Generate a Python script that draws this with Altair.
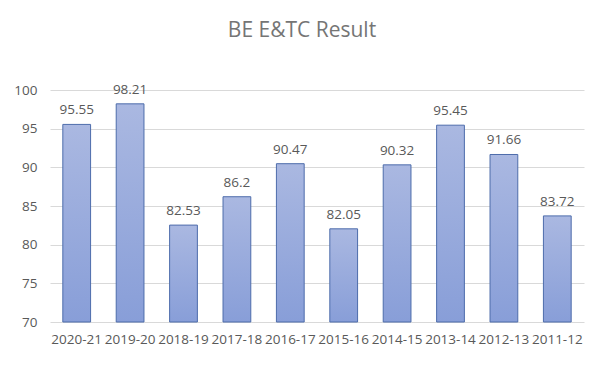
import altair as alt
import pandas as pd

title_text = "BE E&TC Result"
years = ["2020-21", "2019-20", "2018-19", "2017-18", "2016-17",
         "2015-16", "2014-15", "2013-14", "2012-13", "2011-12"]
results = [95.55, 98.21, 82.53, 86.2, 90.47, 82.05, 90.32, 95.45, 91.66, 83.72]
y_ticks = [70, 75, 80, 85, 90, 95, 100]

df = pd.DataFrame({"year": years, "result": results})
df["label"] = [f"{v:g}" for v in results]

FONT = "Open Sans"
FS = 13.5

x_enc = alt.X("year:N", sort=years, title=None,
              scale=alt.Scale(paddingInner=0.48, paddingOuter=0.24),
              axis=alt.Axis(labelAngle=0, labelFontSize=FS, labelColor="#595959",
                            labelFont=FONT, ticks=False, domain=False,
                            labelPadding=10, grid=False, labelOverlap=False))
y_enc = alt.Y("result:Q", title=None,
              scale=alt.Scale(domain=[70, 100], zero=False, nice=False),
              axis=alt.Axis(values=y_ticks, labelFontSize=FS, labelColor="#595959",
                            labelFont=FONT, ticks=False, domain=False,
                            labelPadding=13, gridColor="#d9d9d9", gridWidth=1,
                            labelOverlap=False))

grad = alt.Gradient(
    gradient="linear",
    stops=[alt.GradientStop(color="#aab8e1", offset=0),
           alt.GradientStop(color="#889ed8", offset=1)],
    x1=0, x2=0, y1=0, y2=1,
)

bars = alt.Chart(df).mark_bar(color=grad, stroke="#4d6cab", strokeWidth=1).encode(
    x=x_enc, y=y_enc, y2=alt.datum(70)
)

labels = alt.Chart(df).mark_text(
    baseline="alphabetic", dy=-10, fontSize=FS, color="#595959", font=FONT
).encode(x=x_enc, y=y_enc, text="label:N")

title = alt.Chart(pd.DataFrame({"t": [title_text]})).mark_text(
    fontSize=21, color="#757575", font=FONT, align="center", baseline="alphabetic"
).encode(x=alt.value(252), y=alt.value(-53), text="t:N")

chart = alt.layer(bars, labels, title).properties(
    width=534, height=232,
    padding={"left": 42, "top": 82, "right": 11, "bottom": 30},
    autosize=alt.AutoSizeParams(type="none"),
    background="white",
).configure_view(stroke=None)

chart.save("out.html", embed_options={"renderer": "svg", "actions": False})
